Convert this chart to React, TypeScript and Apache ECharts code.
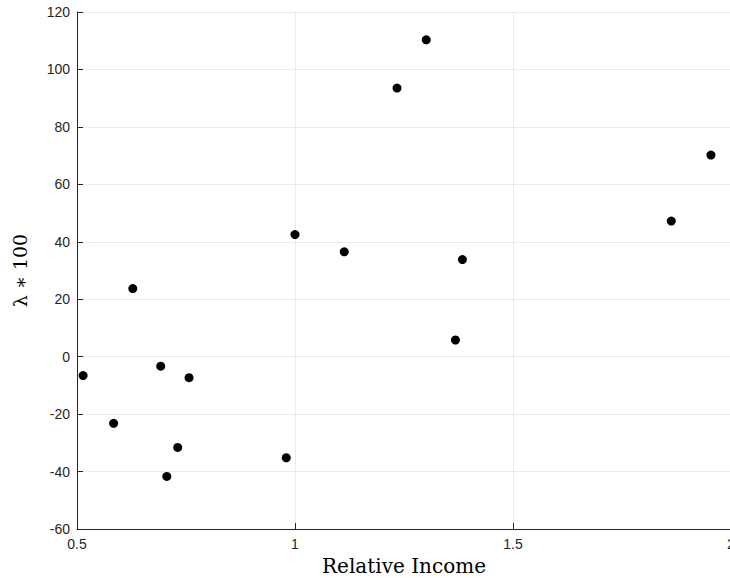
import React, { useEffect, useRef } from "react";
import * as echarts from "echarts";

// Relative income vs. lambda (scaled by 100)
const relativeIncome = [
  0.514, 0.584, 0.628, 0.692, 0.706, 0.731, 0.757, 0.98,
  1.0, 1.113, 1.234, 1.301, 1.368, 1.384, 1.863, 1.954,
];
const lambda100 = [
  -6.6, -23.2, 23.7, -3.3, -41.7, -31.6, -7.3, -35.2,
  42.5, 36.5, 93.5, 110.3, 5.8, 33.8, 47.2, 70.2,
];

const xTicks = [0.5, 1, 1.5, 2];
const yTicks = [-60, -40, -20, 0, 20, 40, 60, 80, 100, 120];

export default function App() {
  const ref = useRef<HTMLDivElement>(null);

  useEffect(() => {
    if (!ref.current) return;
    const chart = echarts.init(ref.current, null, { renderer: "svg" });
    const points = relativeIncome.map((x, i) => [x, lambda100[i]]);
    const axisColor = "#262626";
    const gridColor = "#ebebeb";
    const tickFont = { color: axisColor, fontSize: 14, fontFamily: "Liberation Sans, Arial, sans-serif" };

    chart.setOption({
      animation: false,
      backgroundColor: "#ffffff",
      grid: {
        left: 77,
        top: 12,
        width: 654,
        height: 517,
        containLabel: false,
        outerBoundsMode: "none",
      },
      xAxis: {
        type: "value",
        min: xTicks[0],
        max: xTicks[xTicks.length - 1],
        interval: 0.5,
        name: "Relative Income",
        nameLocation: "middle",
        nameGap: 26,
        nameTextStyle: { fontFamily: "DejaVu Serif, Liberation Serif, serif", fontSize: 20, color: "#000" },
        axisLine: { show: true, onZero: false, lineStyle: { color: axisColor, width: 1 } },
        axisTick: { show: true, inside: true, length: 6, lineStyle: { color: axisColor } },
        axisLabel: { ...tickFont, margin: 8, formatter: (v: number) => String(v) },
        splitLine: { show: true, lineStyle: { color: gridColor, width: 1 } },
      },
      yAxis: {
        type: "value",
        min: yTicks[0],
        max: yTicks[yTicks.length - 1],
        interval: 20,
        name: "λ ∗ 100",
        nameLocation: "middle",
        nameGap: 48,
        nameRotate: 90,
        nameTextStyle: { fontFamily: "DejaVu Serif, Liberation Serif, serif", fontSize: 19, color: "#000" },
        axisLine: { show: true, onZero: false, lineStyle: { color: axisColor, width: 1 } },
        axisTick: { show: true, inside: true, length: 6, lineStyle: { color: axisColor } },
        axisLabel: { ...tickFont, margin: 7 },
        splitLine: { show: true, lineStyle: { color: gridColor, width: 1 } },
      },
      series: [
        {
          type: "scatter",
          data: points,
          symbol: "circle",
          symbolSize: 9,
          itemStyle: { color: "#000000", opacity: 1 },
        },
      ],
    });

    return () => chart.dispose();
  }, []);

  return (
    <div
      ref={ref}
      style={{ position: "absolute", left: 0, top: 0, width: 730, height: 578, background: "#fff" }}
    />
  );
}
